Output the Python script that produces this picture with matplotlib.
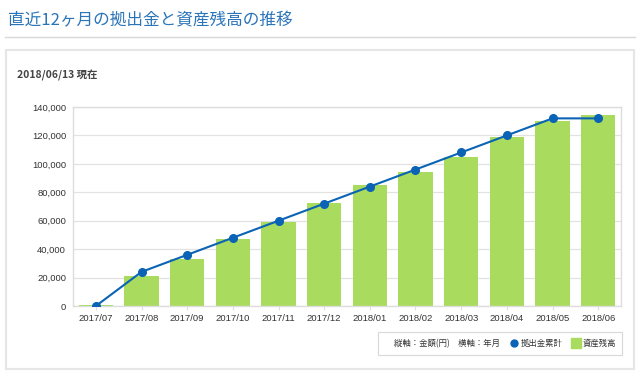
import matplotlib
matplotlib.use("Agg")
import matplotlib.pyplot as plt
from matplotlib.patches import Rectangle
from matplotlib.lines import Line2D
from matplotlib.ticker import FuncFormatter

plt.rcParams['font.family'] = ['Noto Sans CJK JP', 'DejaVu Sans']

months = ['2017/07', '2017/08', '2017/09', '2017/10', '2017/11', '2017/12',
          '2018/01', '2018/02', '2018/03', '2018/04', '2018/05', '2018/06']
contrib = [0, 24000, 36000, 48000, 60000, 72000, 84000, 96000, 108000, 120000, 132000, 132000]
assets = [500, 21000, 33000, 47000, 59000, 72500, 85000, 94500, 104800, 118800, 130500, 134500]

title = '直近12ヶ月の拠出金と資産残高の推移'
asof = '2018/06/13 現在'

bar_col = '#a8db5e'
line_col = '#0a63b5'

fig = plt.figure(figsize=(6.4, 3.75), dpi=100)

# header
fig.text(8 / 640, 1 - 21 / 375, title, color='#2a74b8', fontsize=12, va='center', ha='left')
fig.add_artist(Line2D([5 / 640, 635 / 640], [1 - 37 / 375] * 2, color='#d8d8d8', lw=1))
fig.add_artist(Rectangle((6 / 640, 1 - 369 / 375), 628 / 640, 319 / 375, fill=False,
                         edgecolor='#e6e6e6', lw=1.5))
fig.text(17 / 640, 1 - 75 / 375, asof, color='#444444', fontsize=7.5, fontweight='bold',
         va='center', ha='left')

ax = fig.add_axes([73 / 640, 1 - 306 / 375, 548 / 640, 199 / 375])
x = range(len(months))
ax.bar(x, assets, width=0.75, color=bar_col, zorder=2)
ax.plot(x, contrib, color=line_col, lw=1.5, marker='o', markersize=5.5, zorder=3)

ax.set_xlim(-0.5, len(months) - 0.5)
ax.set_ylim(0, 140000)
ax.set_yticks(range(0, 140001, 20000))
ax.yaxis.set_major_formatter(FuncFormatter(lambda v, p: f'{int(v):,}'))
ax.set_xticks(list(x))
ax.set_xticklabels(months)
ax.tick_params(axis='both', labelsize=6.8, colors='#333333', length=0, pad=5)
ax.tick_params(axis='x', length=3, color='#dddddd', pad=3)
for t in ax.get_xticklabels() + ax.get_yticklabels():
    t.set_family(['Liberation Sans', 'DejaVu Sans'])
ax.grid(axis='y', color='#e2e2e2', lw=0.9, zorder=0)
ax.set_axisbelow(True)
for s in ax.spines.values():
    s.set_color('#dddddd')
    s.set_linewidth(1)

handles = [Line2D([], [], color='none'),
           Line2D([], [], color='none', marker='o', markerfacecolor=line_col,
                  markeredgecolor=line_col, markersize=5),
           Line2D([], [], color='none', marker='s', markerfacecolor=bar_col,
                  markeredgecolor=bar_col, markersize=7)]
labels = ['縦軸：金額(円)　横軸：年月', '拠出金累計', '資産残高']
leg = fig.legend(handles, labels, ncol=3, loc='center', fontsize=6,
                 bbox_to_anchor=(500 / 640, 1 - 343.5 / 375), frameon=True,
                 fancybox=False, edgecolor='#d0d0d0', handlelength=0.8,
                 handletextpad=0.4, columnspacing=1.2, borderpad=0.8)
leg.get_frame().set_linewidth(0.8)
for t in leg.get_texts():
    t.set_color('#333333')

fig.savefig('out.png', dpi=100)
